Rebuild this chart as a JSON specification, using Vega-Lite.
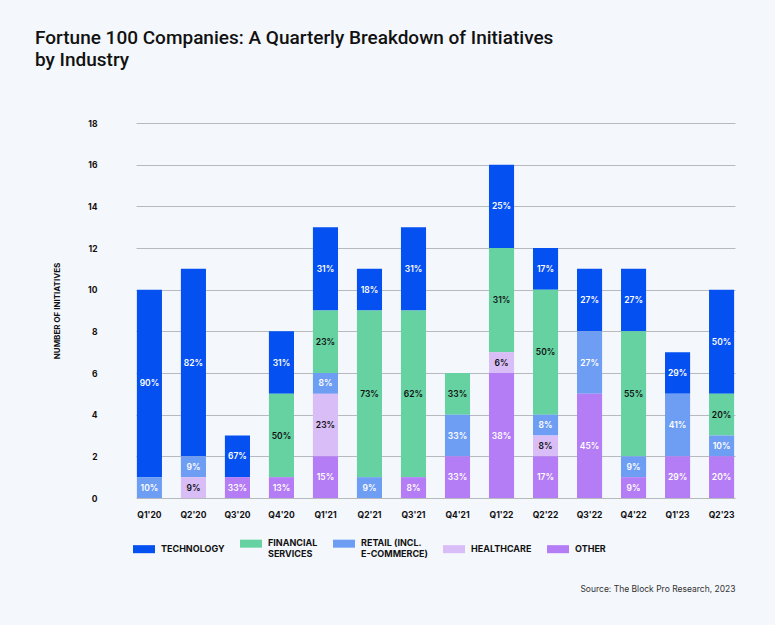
{
  "$schema": "https://vega.github.io/schema/vega-lite/v6.json",
  "width": 599,
  "height": 375,
  "autosize": {"type": "none"},
  "padding": {"left": 136, "top": 123, "right": 40, "bottom": 127},
  "background": "#F4F7FC",
  "title": {
    "text": ["Fortune 100 Companies: A Quarterly Breakdown of Initiatives", "by Industry"],
    "anchor": "start",
    "frame": "group",
    "dx": -101,
    "offset": 49,
    "font": "Roboto",
    "fontSize": 19,
    "fontWeight": 500,
    "lineHeight": 22,
    "color": "#111111"
  },
  "datasets": {
    "industries": [
      {"industry": "Other", "stackRank": 1},
      {"industry": "Healthcare", "stackRank": 2},
      {"industry": "Retail (incl. E-commerce)", "stackRank": 3},
      {"industry": "Financial Services", "stackRank": 4},
      {"industry": "Technology", "stackRank": 5}
    ]
  },
  "data": {
    "values": [
      {"quarter": "Q1'20", "industry": "Technology", "count": 9, "label": "90%"},
      {"quarter": "Q1'20", "industry": "Retail (incl. E-commerce)", "count": 1, "label": "10%"},
      {"quarter": "Q2'20", "industry": "Technology", "count": 9, "label": "82%"},
      {"quarter": "Q2'20", "industry": "Retail (incl. E-commerce)", "count": 1, "label": "9%"},
      {"quarter": "Q2'20", "industry": "Healthcare", "count": 1, "label": "9%"},
      {"quarter": "Q3'20", "industry": "Technology", "count": 2, "label": "67%"},
      {"quarter": "Q3'20", "industry": "Other", "count": 1, "label": "33%"},
      {"quarter": "Q4'20", "industry": "Technology", "count": 3, "label": "31%"},
      {"quarter": "Q4'20", "industry": "Financial Services", "count": 4, "label": "50%"},
      {"quarter": "Q4'20", "industry": "Other", "count": 1, "label": "13%"},
      {"quarter": "Q1'21", "industry": "Technology", "count": 4, "label": "31%"},
      {"quarter": "Q1'21", "industry": "Financial Services", "count": 3, "label": "23%"},
      {"quarter": "Q1'21", "industry": "Retail (incl. E-commerce)", "count": 1, "label": "8%"},
      {"quarter": "Q1'21", "industry": "Healthcare", "count": 3, "label": "23%"},
      {"quarter": "Q1'21", "industry": "Other", "count": 2, "label": "15%"},
      {"quarter": "Q2'21", "industry": "Technology", "count": 2, "label": "18%"},
      {"quarter": "Q2'21", "industry": "Financial Services", "count": 8, "label": "73%"},
      {"quarter": "Q2'21", "industry": "Retail (incl. E-commerce)", "count": 1, "label": "9%"},
      {"quarter": "Q3'21", "industry": "Technology", "count": 4, "label": "31%"},
      {"quarter": "Q3'21", "industry": "Financial Services", "count": 8, "label": "62%"},
      {"quarter": "Q3'21", "industry": "Other", "count": 1, "label": "8%"},
      {"quarter": "Q4'21", "industry": "Financial Services", "count": 2, "label": "33%"},
      {"quarter": "Q4'21", "industry": "Retail (incl. E-commerce)", "count": 2, "label": "33%"},
      {"quarter": "Q4'21", "industry": "Other", "count": 2, "label": "33%"},
      {"quarter": "Q1'22", "industry": "Technology", "count": 4, "label": "25%"},
      {"quarter": "Q1'22", "industry": "Financial Services", "count": 5, "label": "31%"},
      {"quarter": "Q1'22", "industry": "Healthcare", "count": 1, "label": "6%"},
      {"quarter": "Q1'22", "industry": "Other", "count": 6, "label": "38%"},
      {"quarter": "Q2'22", "industry": "Technology", "count": 2, "label": "17%"},
      {"quarter": "Q2'22", "industry": "Financial Services", "count": 6, "label": "50%"},
      {"quarter": "Q2'22", "industry": "Retail (incl. E-commerce)", "count": 1, "label": "8%"},
      {"quarter": "Q2'22", "industry": "Healthcare", "count": 1, "label": "8%"},
      {"quarter": "Q2'22", "industry": "Other", "count": 2, "label": "17%"},
      {"quarter": "Q3'22", "industry": "Technology", "count": 3, "label": "27%"},
      {"quarter": "Q3'22", "industry": "Retail (incl. E-commerce)", "count": 3, "label": "27%"},
      {"quarter": "Q3'22", "industry": "Other", "count": 5, "label": "45%"},
      {"quarter": "Q4'22", "industry": "Technology", "count": 3, "label": "27%"},
      {"quarter": "Q4'22", "industry": "Financial Services", "count": 6, "label": "55%"},
      {"quarter": "Q4'22", "industry": "Retail (incl. E-commerce)", "count": 1, "label": "9%"},
      {"quarter": "Q4'22", "industry": "Other", "count": 1, "label": "9%"},
      {"quarter": "Q1'23", "industry": "Technology", "count": 2, "label": "29%"},
      {"quarter": "Q1'23", "industry": "Retail (incl. E-commerce)", "count": 3, "label": "41%"},
      {"quarter": "Q1'23", "industry": "Other", "count": 2, "label": "29%"},
      {"quarter": "Q2'23", "industry": "Technology", "count": 5, "label": "50%"},
      {"quarter": "Q2'23", "industry": "Financial Services", "count": 2, "label": "20%"},
      {"quarter": "Q2'23", "industry": "Retail (incl. E-commerce)", "count": 1, "label": "10%"},
      {"quarter": "Q2'23", "industry": "Other", "count": 2, "label": "20%"}
    ]
  },
  "transform": [
    {"lookup": "industry", "from": {"data": {"name": "industries"}, "key": "industry", "fields": ["stackRank"]}}
  ],
  "encoding": {
    "x": {
      "field": "quarter",
      "type": "nominal",
      "sort": null,
      "scale": {"paddingInner": 0.43, "paddingOuter": 0.02},
      "axis": {
        "labelAngle": 0,
        "ticks": false,
        "domain": false,
        "labelPadding": 12,
        "labelFontSize": 8.5,
        "labelFontWeight": "bold",
        "labelColor": "#111111",
        "title": "Source: The Block Pro Research, 2023",
        "titleX": 599,
        "titleY": 90,
        "titleAlign": "right",
        "titleBaseline": "middle",
        "titleFontSize": 8.5,
        "titleFontWeight": "normal",
        "titleColor": "#333333"
      }
    },
    "y": {
      "field": "count",
      "type": "quantitative",
      "stack": "zero",
      "scale": {"domain": [0, 18]},
      "axis": {
        "values": [0, 2, 4, 6, 8, 10, 12, 14, 16, 18],
        "grid": true,
        "gridColor": "#A6A9AE",
        "gridWidth": 0.8,
        "domain": false,
        "ticks": false,
        "labelPadding": 39,
        "labelFontSize": 8.5,
        "labelFontWeight": "bold",
        "labelColor": "#111111",
        "title": "NUMBER OF INITIATIVES",
        "titleFontSize": 8,
        "titleFontWeight": "bold",
        "titleColor": "#111111",
        "titlePadding": 26
      }
    },
    "order": {"field": "stackRank", "type": "quantitative", "sort": "ascending"}
  },
  "layer": [
    {
      "mark": {"type": "bar"},
      "encoding": {
        "color": {
          "field": "industry",
          "type": "nominal",
          "scale": {
            "domain": ["Technology", "Financial Services", "Retail (incl. E-commerce)", "Healthcare", "Other"],
            "range": ["#0550F0", "#66D2A2", "#6E9EF4", "#D9BDF7", "#B47CF5"]
          },
          "legend": {
            "title": null,
            "orient": "none",
            "legendX": -3,
            "legendY": 405,
            "direction": "horizontal",
            "columns": 5,
            "columnPadding": 15,
            "labelOffset": 6,
            "symbolType": "M-1,0.06H1V0.79H-1Z",
            "symbolSize": 484,
            "symbolStrokeWidth": 0,
            "symbolOpacity": 1,
            "labelFontSize": 9,
            "labelFontWeight": "bold",
            "labelColor": "#111111",
            "labelBaseline": "top",
            "labelLineHeight": 12,
            "labelLimit": 200,
            "labelExpr": "datum.label == 'Financial Services' ? ['FINANCIAL', 'SERVICES'] : datum.label == 'Retail (incl. E-commerce)' ? ['RETAIL (INCL.', 'E-COMMERCE)'] : upper(datum.label)"
          }
        }
      }
    },
    {
      "mark": {"type": "text", "fontSize": 8.5, "fontWeight": 600},
      "encoding": {
        "y": {"field": "count", "type": "quantitative", "stack": "zero", "bandPosition": 0.5},
        "text": {"field": "label"},
        "color": {
          "field": "industry",
          "type": "nominal",
          "scale": {
            "domain": ["Technology", "Financial Services", "Retail (incl. E-commerce)", "Healthcare", "Other"],
            "range": ["#FFFFFF", "#111111", "#FFFFFF", "#111111", "#FFFFFF"]
          },
          "legend": null
        }
      }
    }
  ],
  "resolve": {"scale": {"color": "independent"}},
  "config": {
    "font": "Inter",
    "view": {"stroke": null}
  }
}
